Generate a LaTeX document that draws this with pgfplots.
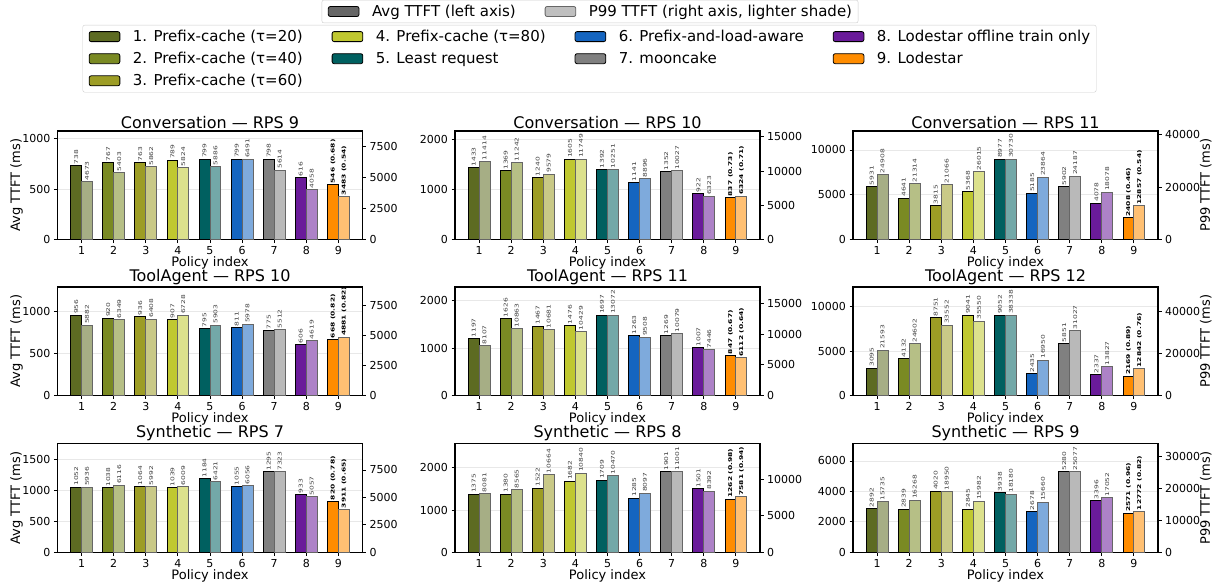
\documentclass[border=0pt]{standalone}
\usepackage{fontspec}
\setmainfont{DejaVu Sans}
\newfontfamily\labfont[FakeStretch=1.45]{DejaVu Sans}
\usepackage{pgfplots}
\usepackage{pgfplotstable}
\pgfplotsset{compat=1.18}

\definecolor{pc1}{HTML}{5D6B22}
\definecolor{pc2}{HTML}{7A8A23}
\definecolor{pc3}{HTML}{9D9D25}
\definecolor{pc4}{HTML}{C0C830}
\definecolor{pc5}{HTML}{006060}
\definecolor{pc6}{HTML}{1565C0}
\definecolor{pc7}{HTML}{808080}
\definecolor{pc8}{HTML}{6A1B9A}
\definecolor{pc9}{HTML}{FF8C00}
\colorlet{pl1}{pc1!55!white}
\colorlet{pl2}{pc2!55!white}
\colorlet{pl3}{pc3!55!white}
\colorlet{pl4}{pc4!55!white}
\colorlet{pl5}{pc5!55!white}
\colorlet{pl6}{pc6!55!white}
\colorlet{pl7}{pc7!55!white}
\colorlet{pl8}{pc8!55!white}
\colorlet{pl9}{pc9!55!white}

% Conversation RPS 9 / 10 / 11
\pgfplotstableread{
idx avg p99
1 738 4673
2 767 5403
3 763 5862
4 789 5824
5 799 5886
6 799 6491
7 798 5614
8 616 4058
9 546 3483
}\convA
\pgfplotstableread{
idx avg p99
1 1433 11414
2 1369 11242
3 1240 9579
4 1605 11749
5 1392 10251
6 1141 8896
7 1352 10027
8 922 6323
9 837 6324
}\convB
\pgfplotstableread{
idx avg p99
1 5931 24908
2 4641 21314
3 3815 21066
4 5368 26015
5 8977 30730
6 5185 23864
7 5902 24187
8 4078 18078
9 2408 12857
}\convC
% ToolAgent RPS 10 / 11 / 12
\pgfplotstableread{
idx avg p99
1 956 5882
2 920 6349
3 936 6408
4 907 6728
5 795 5903
6 811 5978
7 775 5512
8 606 4619
9 668 4881
}\toolA
\pgfplotstableread{
idx avg p99
1 1197 8107
2 1626 10863
3 1467 10681
4 1476 10429
5 1697 13072
6 1263 9508
7 1269 10079
8 1007 7446
9 847 6112
}\toolB
\pgfplotstableread{
idx avg p99
1 3095 21593
2 4132 24602
3 8751 33552
4 9041 35550
5 9052 38338
6 2435 16950
7 5851 31027
8 2337 13827
9 2169 12842
}\toolC
% Synthetic RPS 7 / 8 / 9
\pgfplotstableread{
idx avg p99
1 1052 5936
2 1038 6116
3 1064 5992
4 1039 6009
5 1184 6421
6 1055 6056
7 1295 7323
8 933 5057
9 820 3911
}\synA
\pgfplotstableread{
idx avg p99
1 1375 8081
2 1380 8565
3 1522 10664
4 1682 10840
5 1709 10470
6 1285 8097
7 1901 11001
8 1501 8392
9 1262 7581
}\synB
\pgfplotstableread{
idx avg p99
1 2892 15735
2 2839 16268
3 4020 18950
4 2845 15982
5 3938 18180
6 2678 15660
7 5280 25077
8 3396 17052
9 2571 12772
}\synC

\pgfplotsset{
  base/.style={scale only axis, width=305pt, height=108.5pt,
    xmin=0.25, xmax=9.75, ymin=0, anchor=south west,
    /pgf/number format/.cd, fixed, precision=0, 1000 sep={}, assume math mode=true, /pgfplots/.cd,
    scaled y ticks=false,
    tick label style={font=\fontsize{11}{13}\selectfont},
    label style={font=\fontsize{13}{15}\selectfont},
    tick align=outside, major tick length=3.5pt,
    axis line style={line width=1.1pt},
    every tick/.style={black, line width=0.9pt}},
  leftax/.style={base, xtick={1,...,9}, xtick pos=left, ytick pos=left,
    ymajorgrids, grid style={black!9, line width=0.9pt},
    title style={font=\fontsize{16}{19}\selectfont, yshift=-7pt},
    xlabel={Policy index}, xlabel style={yshift=5pt},
    every axis y label/.style={at={(axis description cs:-0.134,0.5)}, rotate=90, anchor=center,
      font=\fontsize{13}{15}\selectfont}},
  rightax/.style={base, axis y line*=right, axis x line=none,
    every axis y label/.style={at={(axis description cs:1.157,0.5)}, rotate=90, anchor=center,
      font=\fontsize{13}{15}\selectfont}},
  vlab/.style={nodes near coords,
    every node near coord/.append style={xshift=#1, rotate=90, anchor=west, inner sep=0.8pt,
      font=\labfont\fontsize{5.2}{6}\selectfont, text=black!75}},
  avgbar/.style={ybar, bar width=0.34, bar shift=-0.17, draw=black, line width=0.9pt, vlab=-5.46pt},
  p99bar/.style={ybar, bar width=0.34, bar shift=0.17, draw=black!60, line width=0.9pt, vlab=5.46pt},
  legpatch/.style={legend image code/.code={\draw[##1] (0pt,-5pt) rectangle (30.7pt,5pt);}},
}

% #1 table, #2 ratio shown for policy 9
\newcommand{\avgbars}[2]{%
  \pgfplotsinvokeforeach{1,...,8}{%
    \addplot[avgbar, fill=pc##1, x filter/.expression={abs(x-##1)<0.01 ? x : nan}] table[x=idx,y=avg]{#1};
  }
  \addplot[avgbar, fill=pc9, x filter/.expression={abs(x-9)<0.01 ? x : nan},
    nodes near coords={\textbf{\pgfmathprintnumber{\pgfplotspointmeta}\ (#2)}},
    every node near coord/.append style={text=black}] table[x=idx,y=avg]{#1};
}
\newcommand{\pbars}[2]{%
  \pgfplotsinvokeforeach{1,...,8}{%
    \addplot[p99bar, fill=pl##1, x filter/.expression={abs(x-##1)<0.01 ? x : nan}] table[x=idx,y=p99]{#1};
  }
  \addplot[p99bar, fill=pl9, x filter/.expression={abs(x-9)<0.01 ? x : nan},
    nodes near coords={\textbf{\pgfmathprintnumber{\pgfplotspointmeta}\ (#2)}},
    every node near coord/.append style={text=black}] table[x=idx,y=p99]{#1};
}

\begin{document}
\begin{tikzpicture}
\useasboundingbox (0,0) rectangle (1215pt,-586pt);

% ---------- legends ----------
\begin{axis}[hide axis, scale only axis, width=10pt, height=10pt, xmin=0, xmax=1, ymin=0, ymax=1,
  at={(590pt,-11.5pt)}, anchor=center, legend columns=2,
  legend style={at={(0.5,0.5)}, anchor=center, font=\fontsize{15}{18}\selectfont,
    draw=black!20, rounded corners=2pt, inner xsep=6pt, inner ysep=5pt,
    nodes={inner sep=0pt},
    /tikz/every odd column/.append style={column sep=12.6pt},
    /tikz/every even column/.append style={column sep=29pt}},
  legend cell align=left]
\addlegendimage{legpatch, fill=black!60, draw=black, line width=0.8pt}
\addlegendentry{Avg TTFT (left axis)}
\addlegendimage{legpatch, fill=black!25, draw=black!60, line width=0.8pt}
\addlegendentry{P99 TTFT (right axis, lighter shade)}
\end{axis}

\begin{axis}[hide axis, scale only axis, width=10pt, height=10pt, xmin=0, xmax=1, ymin=0, ymax=1,
  at={(589.5pt,-58.7pt)}, anchor=center, legend columns=4,
  legend style={at={(0.5,0.5)}, anchor=center, font=\fontsize{15}{18}\selectfont,
    draw=black!20, rounded corners=2pt, inner xsep=6pt, inner ysep=5pt,
    nodes={inner sep=0pt}, row sep=9.2pt,
    /tikz/every odd column/.append style={column sep=12.6pt},
    /tikz/every even column/.append style={column sep=29pt}},
  legend cell align=left]
\addlegendimage{legpatch, fill=pc1, draw=black, line width=0.8pt}
\addlegendentry{1. Prefix-cache (τ=20)}
\addlegendimage{legpatch, fill=pc4, draw=black, line width=0.8pt}
\addlegendentry{4. Prefix-cache (τ=80)}
\addlegendimage{legpatch, fill=pc6, draw=black, line width=0.8pt}
\addlegendentry{6. Prefix-and-load-aware}
\addlegendimage{legpatch, fill=pc8, draw=black, line width=0.8pt}
\addlegendentry{8. Lodestar offline train only}
\addlegendimage{legpatch, fill=pc2, draw=black, line width=0.8pt}
\addlegendentry{2. Prefix-cache (τ=40)}
\addlegendimage{legpatch, fill=pc5, draw=black, line width=0.8pt}
\addlegendentry{5. Least request}
\addlegendimage{legpatch, fill=pc7, draw=black, line width=0.8pt}
\addlegendentry{7. mooncake}
\addlegendimage{legpatch, fill=pc9, draw=black, line width=0.8pt}
\addlegendentry{9. Lodestar}
\addlegendimage{legpatch, fill=pc3, draw=black, line width=0.8pt}
\addlegendentry{3. Prefix-cache (τ=60)}
\end{axis}

% ---------- Row 1: Conversation ----------
\begin{axis}[leftax, at={(57.5pt,-239.5pt)}, ymax=1078.65, ytick={0,500,1000},
  title={Conversation — RPS 9}, ylabel={Avg TTFT (ms)}]
\avgbars{\convA}{0.68}
\end{axis}
\begin{axis}[rightax, at={(57.5pt,-239.5pt)}, ymax=8762.85, ytick={0,2500,5000,7500}]
\pbars{\convA}{0.54}
\end{axis}

\begin{axis}[leftax, at={(455pt,-239.5pt)}, ymax=2166.75, ytick={0,1000,2000},
  title={Conversation — RPS 10}]
\avgbars{\convB}{0.73}
\end{axis}
\begin{axis}[rightax, at={(455pt,-239.5pt)}, ymax=15861.15, ytick={0,5000,10000,15000}]
\pbars{\convB}{0.71}
\end{axis}

\begin{axis}[leftax, at={(853pt,-239.5pt)}, ymax=12118.95, ytick={0,5000,10000},
  title={Conversation — RPS 11}]
\avgbars{\convC}{0.46}
\end{axis}
\begin{axis}[rightax, at={(853pt,-239.5pt)}, ymax=41485.5, ytick={0,20000,40000},
  ylabel={P99 TTFT (ms)}]
\pbars{\convC}{0.54}
\end{axis}

% ---------- Row 2: ToolAgent ----------
\begin{axis}[leftax, at={(57.5pt,-395.5pt)}, ymax=1290.6, ytick={0,500,1000},
  title={ToolAgent — RPS 10}, ylabel={Avg TTFT (ms)}]
\avgbars{\toolA}{0.82}
\end{axis}
\begin{axis}[rightax, at={(57.5pt,-395.5pt)}, ymax=9082.8, ytick={0,2500,5000,7500}]
\pbars{\toolA}{0.82}
\end{axis}

\begin{axis}[leftax, at={(455pt,-395.5pt)}, ymax=2290.95, ytick={0,1000,2000},
  title={ToolAgent — RPS 11}]
\avgbars{\toolB}{0.67}
\end{axis}
\begin{axis}[rightax, at={(455pt,-395.5pt)}, ymax=17647.2, ytick={0,5000,10000,15000}]
\pbars{\toolB}{0.64}
\end{axis}

\begin{axis}[leftax, at={(853pt,-395.5pt)}, ymax=12220.2, ytick={0,5000,10000},
  title={ToolAgent — RPS 12}]
\avgbars{\toolC}{0.89}
\end{axis}
\begin{axis}[rightax, at={(853pt,-395.5pt)}, ymax=51756.3, ytick={0,20000,40000},
  ylabel={P99 TTFT (ms)}]
\pbars{\toolC}{0.76}
\end{axis}

% ---------- Row 3: Synthetic ----------
\begin{axis}[leftax, at={(57.5pt,-552.3pt)}, ymax=1748.25, ytick={0,500,1000,1500},
  title={Synthetic — RPS 7}, ylabel={Avg TTFT (ms)}]
\avgbars{\synA}{0.78}
\end{axis}
\begin{axis}[rightax, at={(57.5pt,-552.3pt)}, ymax=9886.05, ytick={0,2500,5000,7500}]
\pbars{\synA}{0.65}
\end{axis}

\begin{axis}[leftax, at={(455pt,-552.3pt)}, ymax=2566.35, ytick={0,1000,2000},
  title={Synthetic — RPS 8}]
\avgbars{\synB}{0.98}
\end{axis}
\begin{axis}[rightax, at={(455pt,-552.3pt)}, ymax=14851.35, ytick={0,5000,10000}]
\pbars{\synB}{0.94}
\end{axis}

\begin{axis}[leftax, at={(853pt,-552.3pt)}, ymax=7128, ytick={0,2000,4000,6000},
  title={Synthetic — RPS 9}]
\avgbars{\synC}{0.96}
\end{axis}
\begin{axis}[rightax, at={(853pt,-552.3pt)}, ymax=33853.95, ytick={0,10000,20000,30000},
  ylabel={P99 TTFT (ms)}]
\pbars{\synC}{0.82}
\end{axis}
\end{tikzpicture}
\end{document}
